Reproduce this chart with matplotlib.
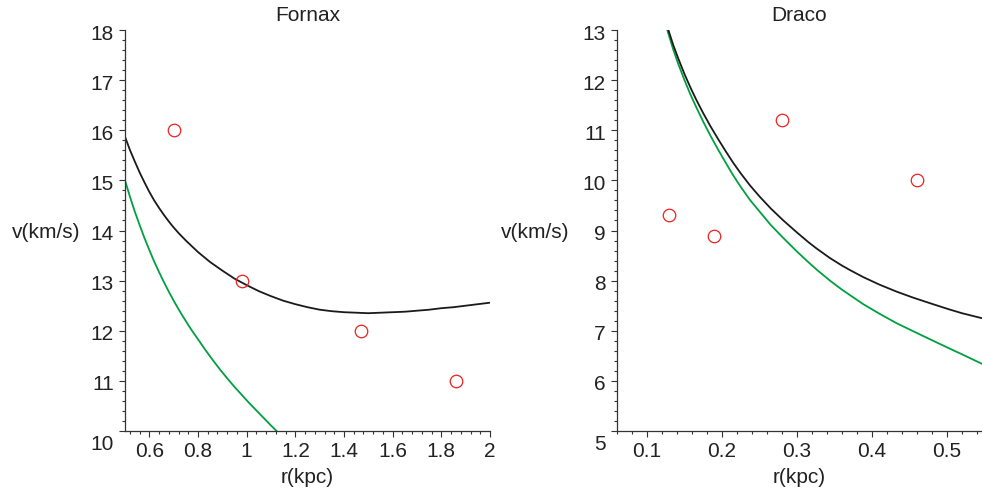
import matplotlib
matplotlib.use('Agg')
import matplotlib.pyplot as plt
from matplotlib.ticker import FixedLocator, FixedFormatter, MultipleLocator
from matplotlib.transforms import ScaledTranslation

plt.rcParams['font.family'] = ['Liberation Sans', 'DejaVu Sans']

# ---------------- data ----------------
fornax_r_obs = [0.70, 0.98, 1.47, 1.86]
fornax_v_obs = [16.0, 13.0, 12.0, 11.0]

fornax_r_total = [0.50, 0.52, 0.54, 0.56, 0.58, 0.60, 0.62, 0.64, 0.66, 0.68,
                  0.70, 0.72, 0.75, 0.80, 0.85, 0.90, 0.95, 1.00, 1.05, 1.10,
                  1.15, 1.20, 1.25, 1.30, 1.35, 1.40, 1.45, 1.50, 1.55, 1.60,
                  1.65, 1.70, 1.75, 1.80, 1.85, 1.90, 1.95, 2.00]
fornax_v_total = [15.87, 15.61, 15.38, 15.16, 14.96, 14.77, 14.60, 14.45, 14.31, 14.18,
                  14.06, 13.95, 13.80, 13.57, 13.37, 13.20, 13.04, 12.91, 12.79, 12.69,
                  12.60, 12.53, 12.47, 12.42, 12.39, 12.37, 12.36, 12.35, 12.36, 12.37,
                  12.38, 12.40, 12.42, 12.45, 12.47, 12.50, 12.53, 12.56]

fornax_r_green = [0.50, 0.52, 0.54, 0.56, 0.58, 0.60, 0.62, 0.64, 0.66, 0.68,
                  0.70, 0.72, 0.74, 0.77, 0.80, 0.83, 0.86, 0.89, 0.92, 0.95,
                  0.98, 1.01, 1.04, 1.07, 1.10, 1.125]
fornax_v_green = [15.00, 14.68, 14.38, 14.11, 13.85, 13.61, 13.38, 13.17, 12.97, 12.78,
                  12.60, 12.43, 12.27, 12.04, 11.83, 11.62, 11.42, 11.23, 11.05, 10.88,
                  10.72, 10.56, 10.41, 10.26, 10.11, 9.99]

draco_r_obs = [0.13, 0.19, 0.28, 0.46]
draco_v_obs = [9.3, 8.9, 11.2, 10.0]

draco_r_total = [0.1285, 0.135, 0.142, 0.150, 0.158, 0.166, 0.175, 0.185, 0.195, 0.205,
                 0.215, 0.225, 0.2373, 0.250, 0.265, 0.2818, 0.300, 0.315, 0.3262, 0.344,
                 0.360, 0.3707, 0.3884, 0.410, 0.4329, 0.455, 0.4773, 0.500, 0.520, 0.5467]
draco_v_total = [13.00, 12.70, 12.42, 12.12, 11.85, 11.60, 11.34, 11.07, 10.82, 10.58,
                 10.35, 10.14, 9.90, 9.68, 9.44, 9.20, 8.96, 8.77, 8.64, 8.45,
                 8.30, 8.21, 8.07, 7.92, 7.78, 7.66, 7.55, 7.44, 7.35, 7.25]

draco_r_green = [0.1271, 0.135, 0.142, 0.150, 0.158, 0.166, 0.175, 0.185, 0.195, 0.205,
                 0.215, 0.225, 0.2373, 0.250, 0.265, 0.2818, 0.300, 0.315, 0.3262, 0.344,
                 0.360, 0.3707, 0.3884, 0.410, 0.4329, 0.455, 0.4773, 0.500, 0.520, 0.5467]
draco_v_green = [13.00, 12.61, 12.31, 12.00, 11.71, 11.45, 11.17, 10.88, 10.61, 10.35,
                 10.10, 9.87, 9.61, 9.38, 9.11, 8.85, 8.58, 8.37, 8.22, 8.00,
                 7.82, 7.71, 7.53, 7.34, 7.15, 6.99, 6.83, 6.67, 6.53, 6.34]

fornax_xticks = [0.6, 0.8, 1.0, 1.2, 1.4, 1.6, 1.8, 2.0]
fornax_xlabels = ['0.6', '0.8', '1', '1.2', '1.4', '1.6', '1.8', '2']
fornax_yticks = [10, 11, 12, 13, 14, 15, 16, 17, 18]
draco_xticks = [0.1, 0.2, 0.3, 0.4, 0.5]
draco_xlabels = ['0.1', '0.2', '0.3', '0.4', '0.5']
draco_yticks = [5, 6, 7, 8, 9, 10, 11, 12, 13]

# ---------------- figure ----------------
W, H = 982, 495
fig = plt.figure(figsize=(W / 100, H / 100), dpi=100)

def px_axes(l, t, r, b):
    return fig.add_axes([l / W, 1 - b / H, (r - l) / W, (b - t) / H])

BLACK = '#1a1a1a'
GREEN = '#00a040'
RED = '#ee2020'
AX = '#333333'
FS = 15

def style(ax, title, xlim, ylim, xticks, xlabels, yticks, xminor, yminor, ylab_x):
    ax.set_xlim(*xlim)
    ax.set_ylim(*ylim)
    for s in ('top', 'right'):
        ax.spines[s].set_visible(False)
    for s in ('left', 'bottom'):
        ax.spines[s].set_color(AX)
        ax.spines[s].set_linewidth(0.9)
    ax.xaxis.set_major_locator(FixedLocator(xticks))
    ax.xaxis.set_major_formatter(FixedFormatter(xlabels))
    ax.yaxis.set_major_locator(FixedLocator(yticks))
    ax.xaxis.set_minor_locator(MultipleLocator(xminor))
    ax.yaxis.set_minor_locator(MultipleLocator(yminor))
    ax.tick_params(which='major', length=4.5, width=0.8, color=AX, labelsize=FS,
                   labelcolor='#222222')
    ax.tick_params(which='minor', length=2.5, width=0.8, color=AX)
    ax.tick_params(axis='x', which='major', pad=3.5)
    ax.tick_params(axis='y', which='major', pad=3.5)
    fig.canvas.draw()
    for lab in ax.get_yticklabels():
        lab.set_transform(lab.get_transform() + ScaledTranslation(0, -2 / 100, fig.dpi_scale_trans))
    first = ax.get_yticklabels()[0]
    first.set_transform(first.get_transform() + ScaledTranslation(0, -9 / 100, fig.dpi_scale_trans))
    ax.set_xlabel('r(kpc)', fontsize=FS, color='#222222')
    ax.xaxis.set_label_coords(0.5, -0.115)
    ax.xaxis.label.set_va('center')
    ax.set_ylabel('v(km/s)', fontsize=FS, rotation=0, ha='right', va='center', color='#222222')
    ax.yaxis.set_label_coords(ylab_x, 0.494)
    ax.text(0.5, 1.035, title, transform=ax.transAxes, ha='center', va='center',
            fontsize=FS, color='#222222')

# Fornax
ax1 = px_axes(125, 30, 490, 431)
ax1.plot(fornax_r_green, fornax_v_green, color=GREEN, lw=1.3)
ax1.plot(fornax_r_total, fornax_v_total, color=BLACK, lw=1.3)
ax1.plot(fornax_r_obs, fornax_v_obs, 'o', mfc='none', mec=RED, ms=9, mew=0.9)
style(ax1, 'Fornax', (0.5, 2.0), (10, 18), fornax_xticks, fornax_xlabels,
      fornax_yticks, 0.04, 0.2, -0.123)

# Draco
ax2 = px_axes(617, 30, 982, 431)
ax2.plot(draco_r_green, draco_v_green, color=GREEN, lw=1.3)
ax2.plot(draco_r_total, draco_v_total, color=BLACK, lw=1.3)
ax2.plot(draco_r_obs, draco_v_obs, 'o', mfc='none', mec=RED, ms=9, mew=0.9)
style(ax2, 'Draco', (0.06, 0.5467), (5, 13), draco_xticks, draco_xlabels,
      draco_yticks, 0.02, 0.2, -0.129)

fig.savefig('out.png', dpi=100)
